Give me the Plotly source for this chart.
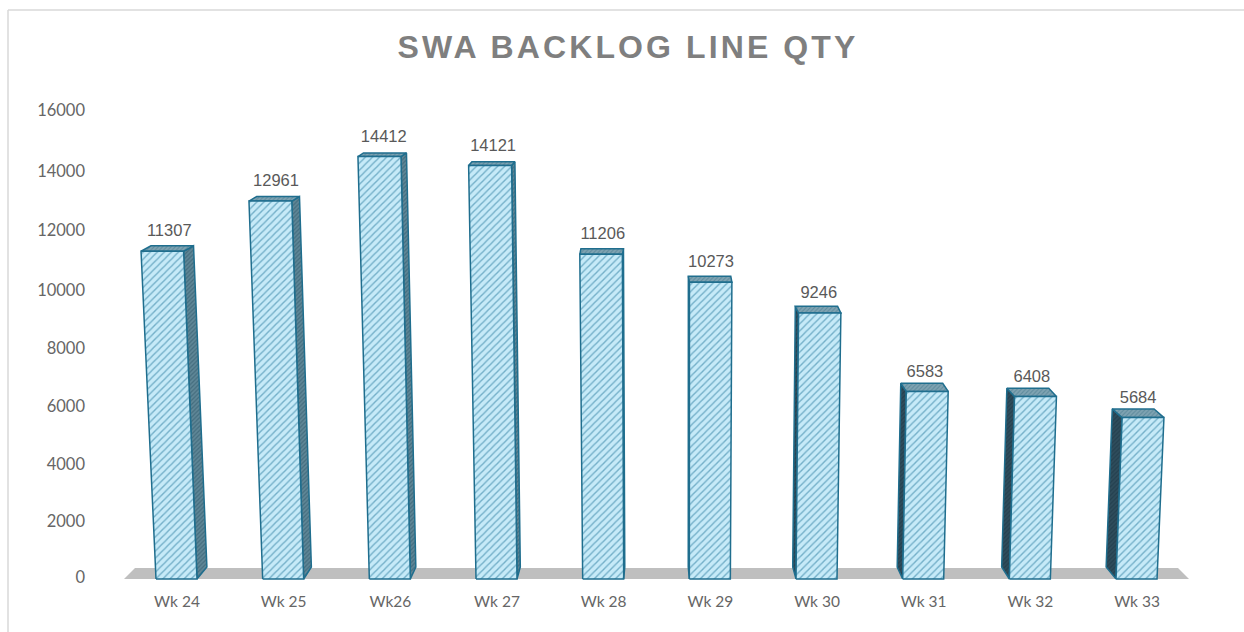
import plotly.graph_objects as go

categories = ["Wk 24", "Wk 25", "Wk26", "Wk 27", "Wk 28", "Wk 29", "Wk 30", "Wk 31", "Wk 32", "Wk 33"]
backlog_qty = [11307, 12961, 14412, 14121, 11206, 10273, 9246, 6583, 6408, 5684]
y_ticks = [0, 2000, 4000, 6000, 8000, 10000, 12000, 14000, 16000]
title_text = "SWA BACKLOG LINE QTY"

W, H = 1244, 632
PLOT_L, PLOT_R, PLOT_T, PLOT_B = 86, 1243, 90, 588
BASE_PX, SLOT_PX, FIRST_PX = 579, 106.67, 176.5
Y_SCALE = 0.029  # px per axis unit


def dx(px):
    return px / SLOT_PX


def dy(px):
    return px / Y_SCALE


def rise(v):
    # slight perspective stretch of taller columns (returned in axis units)
    return dy(v * (0.0278 + 1.05e-7 * v))


def tick_pos(t):
    return dy(1.5 + t * (0.02806 + 7.04e-8 * t))


LINE = "#1F6E8E"
fig = go.Figure()

# floor
fig.add_trace(go.Scatter(
    x=[dx(124 - FIRST_PX), dx(135 - FIRST_PX), dx(1178 - FIRST_PX), dx(1189 - FIRST_PX)],
    y=[0, dy(11), dy(11), 0], mode="lines", fill="toself", fillcolor="#BFBFBF",
    line=dict(width=0), hoverinfo="skip", showlegend=False))


def face(xs, ys, bg, fg, size, solidity, name):
    fig.add_trace(go.Scatter(
        x=xs + xs[:1], y=ys + ys[:1], mode="lines", fill="toself",
        fillcolor=bg,
        fillpattern=dict(shape="/", bgcolor=bg, fgcolor=fg, size=size, solidity=solidity),
        line=dict(color=LINE, width=1.5), name=name, hoverinfo="skip", showlegend=False))


label_x, label_y = [], []
for i, (cat, v) in enumerate(zip(categories, backlog_qty)):
    top = rise(v)
    lean = v * (i - 4.7) * 2.5e-6
    base_hw = dx(20.5)
    top_hw = dx(20.5 + v * 7e-5)
    depth_x = dx((4.5 - i) * 2.2)
    base_back = dy(12)
    top_back = top + dy(12 - v * 0.00058)
    cx_top = i + lean

    # side face, on the inner side towards the vanishing point
    if i <= 4:
        side_x = [i + base_hw, i + base_hw + depth_x, cx_top + top_hw + depth_x, cx_top + top_hw]
        bg, fg = "#5F8797", "#2B5366"
    else:
        side_x = [i - base_hw, i - base_hw + depth_x, cx_top - top_hw + depth_x, cx_top - top_hw]
        bg, fg = "#2F4D5C", "#1A3442"
    face(side_x, [0, base_back, top_back, top], bg, fg, 3, 0.4, cat + " side")

    # top face
    face([cx_top - top_hw, cx_top - top_hw + depth_x, cx_top + top_hw + depth_x, cx_top + top_hw],
         [top, top_back, top_back, top], "#7FA3B2", "#3F7488", 3, 0.35, cat + " top")

    # front face
    face([i - base_hw, cx_top - top_hw, cx_top + top_hw, i + base_hw],
         [0, top, top, 0], "#C6EAF8", "#1F7398", 5, 0.28, cat)

    label_x.append(cx_top + depth_x * 0.6 + dx(1))
    label_y.append(top + dy(19))

fig.add_trace(go.Scatter(
    x=label_x, y=label_y, mode="text", text=[str(v) for v in backlog_qty],
    textposition="middle center", textfont=dict(family="Liberation Sans", size=16.5, color="#595959"),
    hoverinfo="skip", showlegend=False))

fig.update_layout(
    width=W, height=H, autosize=False,
    margin=dict(l=PLOT_L, r=W - PLOT_R, t=PLOT_T, b=H - PLOT_B, pad=0),
    paper_bgcolor="white", plot_bgcolor="rgba(0,0,0,0)", showlegend=False,
    title=dict(text=f"<b>{title_text}</b>", x=628 / W, xanchor="center", y=1 - 47 / H, yanchor="middle",
               font=dict(family="Liberation Sans", size=32, color="#7F7F7F")),
    shapes=[
        dict(type="line", xref="paper", yref="paper", x0=(8 - PLOT_L) / (PLOT_R - PLOT_L), x1=(8 - PLOT_L) / (PLOT_R - PLOT_L),
             y0=(PLOT_B - H) / (PLOT_B - PLOT_T), y1=(PLOT_B - 10) / (PLOT_B - PLOT_T),
             line=dict(color="#D9D9D9", width=1.5)),
        dict(type="line", xref="paper", yref="paper", x0=(8 - PLOT_L) / (PLOT_R - PLOT_L), x1=(W - PLOT_L) / (PLOT_R - PLOT_L),
             y0=(PLOT_B - 10) / (PLOT_B - PLOT_T), y1=(PLOT_B - 10) / (PLOT_B - PLOT_T),
             line=dict(color="#D9D9D9", width=1.5)),
    ],
    xaxis=dict(
        range=[dx(PLOT_L - FIRST_PX), dx(PLOT_R - FIRST_PX)],
        tickmode="array", tickvals=[i + dx(0.5) for i in range(len(categories))], ticktext=categories,
        showgrid=False, zeroline=False, showline=False, ticks="", ticklabelstandoff=2,
        tickfont=dict(family="Lato", size=15.5, color="#666666")),
    yaxis=dict(
        range=[dy(BASE_PX - PLOT_B), dy(BASE_PX - PLOT_T)],
        tickmode="array", tickvals=[tick_pos(t) for t in y_ticks],
        ticktext=[str(t) for t in y_ticks],
        showgrid=False, zeroline=False, showline=False, ticks="",
        tickfont=dict(family="Lato", size=16.5, color="#666666")),
)

fig.write_html(
    "out.html",
    config={"displayModeBar": False},
    post_script="document.body.style.margin='0';"
                "document.querySelectorAll('.gtitle').forEach(function(t){t.style.letterSpacing='3.1px';});",
)
